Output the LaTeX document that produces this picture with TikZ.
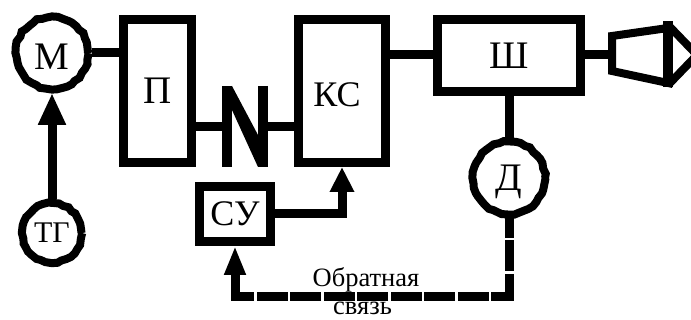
\documentclass[tikz,border=0pt]{standalone}
\usepackage{fontspec}
\setmainfont{Liberation Serif}
\usetikzlibrary{arrows.meta,decorations.pathmorphing}
\newcommand{\lowtext}[1]{\raisebox{-4pt}[\height][\depth]{#1}}
\tikzset{
  block/.style={draw,line width=9pt,inner sep=0pt},
  ring/.style={circle,draw,line width=8pt,inner sep=0pt,decorate,decoration={random steps,segment length=5pt,amplitude=0.9pt}},
  wire/.style={line width=9pt},
  feedwire/.style={line width=9pt,dash pattern=on 31pt off 2.5pt},
  twoletter/.style={font=\fontsize{36}{36}\selectfont},
  caption/.style={font=\fontsize{26.5}{26.5}\selectfont,inner sep=0pt}
}
\begin{document}
\begin{tikzpicture}[x=1pt,y=-1pt,line join=miter,font=\fontsize{39}{39}\selectfont]
            \useasboundingbox (0,0) rectangle (691,320);
            \node[ring,minimum size=72pt] (M) at (52,53) {\lowtext{М}};
            \node[ring,minimum size=59pt,font=\fontsize{30}{30}\selectfont] (TG) at (52,233) {ТГ};
            \node[ring,minimum size=72pt] (D) at (509,178) {\lowtext{Д}};
            \node[block,minimum width=68pt,minimum height=143pt] (P) at (157.5,91) {П};
            \node[block,twoletter,minimum width=87pt,minimum height=143pt] (KS) at (342,91) {\hspace*{-10pt}\lowtext{КС}};
            \node[block,minimum width=143pt,minimum height=72pt] (Sh) at (509,55.5) {Ш};
            \node[block,twoletter,minimum width=71pt,minimum height=55pt] (SU) at (235,214) {СУ};
            \node[caption,anchor=base] (fb1) at (366,287) {Обратная};
            \node[caption,anchor=base] (fb2) at (362.5,315) {связь};
            \coordinate (keyL) at (227,127);
            \coordinate (keyR) at (263,127);
            \coordinate (turn) at (509,296.5);
            \coordinate (horn) at (612,55);
            \draw[wire] (M.east) -- (P.west |- M.east);
            \draw[wire] (keyL -| P.east) -- (keyL);
            \draw[wire] (keyR) -- (keyR -| KS.west);
            \draw[wire] (KS.east |- horn) -- (Sh.west |- horn);
            \draw[wire] (Sh.east |- horn) -- (horn);
            \draw[wire] (Sh.south) -- (D.north);
            \draw[wire,-{Triangle[length=32pt,width=26pt]}] (TG.north) -- (M.south);
            \draw[wire,-{Triangle[length=25pt,width=23pt]}] (SU.east) -| (KS.south);
            \draw[feedwire,dash phase=11pt] (D.south) -- ([yshift=-4.5pt]turn);
            \draw[feedwire,dash phase=13pt] (turn) -- (turn -| SU.south);
            \draw[wire,-{Triangle[length=29pt,width=20pt]}] ([yshift=-4.5pt]SU.south |- turn) -- (SU.south);
            \foreach \k in {keyL,keyR}
            \draw[line width=10pt] (\k |- 0,86) -- (\k |- 0,167);
            \fill (232,86) -- (258,135) -- (258,167) -- (232,110) -- cycle;
            \draw[line width=8pt] (612,36) -- (668,28) -- (668,83) -- (612,71) -- cycle;
            \draw[line width=10pt] (668,21) -- (668,87);
            \draw[line width=8pt] (670,27) -- (697,55) -- (670,83);
        \end{tikzpicture}
\end{document}
